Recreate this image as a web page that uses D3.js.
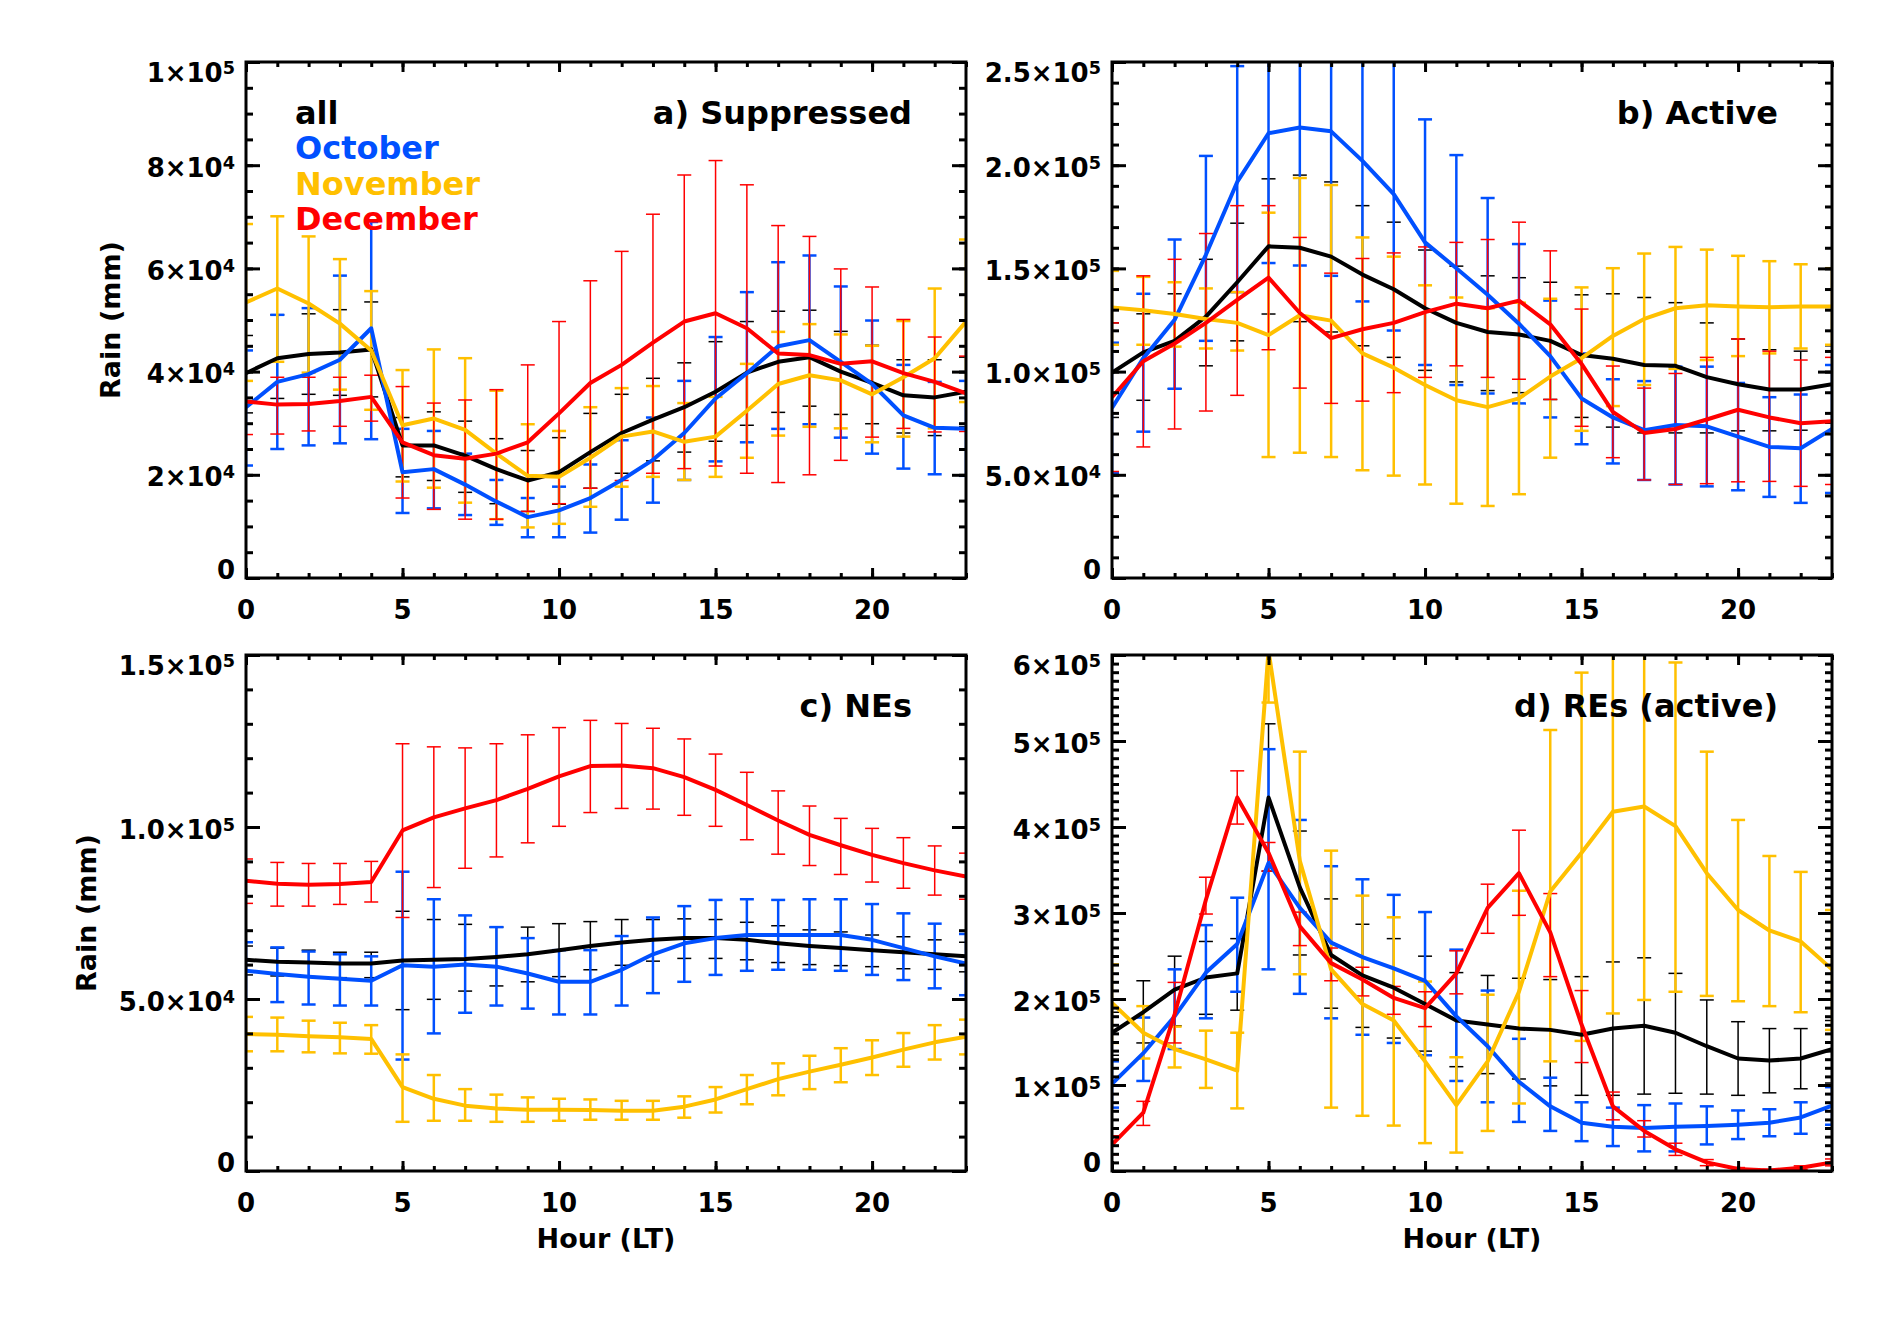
<!DOCTYPE html>
<html>
<head>
<meta charset="utf-8">
<script src="https://cdn.jsdelivr.net/npm/d3@7"></script>
<style>
  body { margin: 0; background: #fff; }
  text { font-family: "DejaVu Sans", sans-serif; font-weight: bold; fill: #000; }
</style>
</head>
<body>
<div id="chart"></div>
<script>
// Hours of the day (LT)
var hours = [0, 1, 2, 3, 4, 5, 6, 7, 8, 9, 10, 11, 12, 13, 14, 15, 16, 17, 18, 19, 20, 21, 22, 23];

// All rain values below are in units of 10^3 mm

// a) Suppressed
var allA   = [39.7, 42.6, 43.4, 43.7, 44.3, 25.7, 25.7, 23.7, 21.1, 18.9, 20.5, 24.4, 28.1, 30.7, 33.1, 36.1, 39.8, 41.9, 42.8, 40.0, 37.8, 35.4, 35.0, 36.1];
var allAHi = [47.0, 51.0, 51.2, 52.0, 53.5, 31.1, 32.2, 30.4, 27.0, 24.7, 27.2, 31.9, 35.6, 38.7, 41.7, 45.8, 49.7, 51.7, 51.9, 47.8, 45.1, 42.3, 42.3, 42.8];
var allALo = [32.0, 34.8, 35.6, 35.4, 35.1, 19.6, 18.9, 16.6, 14.4, 12.9, 14.3, 17.4, 20.3, 22.7, 24.4, 26.5, 29.6, 32.1, 33.3, 31.7, 29.9, 28.1, 27.6, 29.3];
var octA   = [33.1, 38.0, 39.5, 42.3, 48.4, 20.5, 21.1, 18.1, 14.8, 11.8, 13.1, 15.5, 19.0, 22.9, 28.1, 34.8, 39.7, 44.9, 46.1, 41.9, 37.6, 31.5, 29.1, 28.9];
var octAHi = [44.1, 51.0, 52.3, 58.6, 69.0, 28.9, 28.5, 24.1, 19.0, 15.5, 17.7, 22.0, 26.7, 31.1, 38.2, 46.7, 55.4, 61.2, 62.5, 56.5, 49.9, 41.3, 38.0, 38.2];
var octALo = [21.8, 25.0, 25.7, 26.1, 26.9, 12.6, 13.5, 12.2, 10.3, 7.9, 7.9, 8.8, 11.3, 14.6, 19.0, 22.6, 26.3, 28.9, 29.8, 27.2, 24.1, 21.2, 20.1, 19.8];
var novA   = [53.4, 56.1, 53.2, 49.3, 44.1, 29.6, 30.9, 28.7, 24.1, 19.8, 19.6, 23.3, 27.4, 28.4, 26.4, 27.4, 32.4, 37.6, 39.3, 38.3, 35.6, 38.9, 42.6, 49.7];
var novAHi = [68.6, 70.1, 66.2, 61.8, 55.6, 40.3, 44.3, 42.6, 36.3, 29.8, 28.5, 33.1, 36.8, 37.2, 33.9, 35.1, 41.5, 47.7, 49.2, 47.2, 45.0, 49.8, 56.1, 65.6];
var novALo = [38.2, 41.9, 39.8, 36.5, 32.6, 18.7, 17.5, 14.6, 11.4, 9.8, 10.5, 13.8, 17.7, 19.6, 19.0, 19.6, 23.3, 27.6, 29.3, 29.0, 26.3, 27.4, 29.0, 34.1];
var decA   = [34.2, 33.6, 33.7, 34.3, 35.1, 26.3, 23.8, 23.1, 24.1, 26.3, 31.9, 37.8, 41.3, 45.6, 49.7, 51.3, 48.4, 43.5, 43.2, 41.5, 42.0, 39.7, 38.0, 35.8];
var decAHi = [40.0, 38.9, 38.9, 38.9, 39.3, 37.1, 33.9, 34.5, 36.5, 41.3, 49.7, 57.6, 63.3, 70.5, 78.1, 80.9, 76.2, 68.3, 66.2, 59.9, 56.4, 50.1, 46.7, 43.0];
var decALo = [27.8, 27.9, 28.5, 29.4, 30.4, 15.5, 13.3, 11.4, 11.4, 12.9, 14.4, 17.4, 18.9, 20.3, 21.2, 21.7, 20.3, 18.5, 20.0, 22.8, 27.3, 29.0, 28.3, 28.4];

// b) Active
var allB   = [99.5, 109.3, 114.9, 126.6, 143.3, 160.7, 160.0, 155.7, 147.0, 139.9, 130.7, 123.6, 119.2, 118.0, 114.9, 108.0, 106.2, 103.2, 102.8, 97.3, 93.9, 91.3, 91.3, 93.9];
var allBHi = [123.6, 128.0, 137.7, 154.4, 171.9, 193.4, 195.2, 191.9, 180.4, 172.4, 158.9, 151.1, 146.4, 145.5, 143.3, 137.2, 137.7, 135.9, 133.4, 123.6, 115.8, 110.6, 109.9, 112.5];
var allBLo = [77.8, 86.1, 91.7, 102.8, 114.9, 127.9, 124.2, 119.2, 112.5, 106.9, 100.6, 95.0, 90.8, 89.8, 86.5, 77.8, 73.1, 70.3, 70.3, 70.3, 71.3, 71.3, 71.6, 75.0];
var octB   = [82.4, 106.5, 125.1, 156.6, 191.9, 215.5, 218.3, 216.4, 202.1, 186.0, 162.6, 150.1, 137.2, 123.2, 107.5, 87.0, 77.8, 71.6, 74.1, 73.5, 68.5, 63.5, 62.9, 72.2];
var octBHi = [114.0, 137.7, 164.0, 204.5, 248.0, 280.0, 285.0, 285.0, 270.0, 255.0, 222.2, 204.9, 184.1, 161.8, 134.4, 108.8, 96.3, 95.4, 102.4, 102.4, 94.5, 87.6, 88.9, 103.2];
var octBLo = [50.9, 70.9, 91.7, 114.9, 138.5, 152.6, 151.4, 146.4, 134.0, 119.9, 103.2, 93.5, 89.4, 84.6, 77.8, 64.8, 55.5, 47.5, 45.3, 44.4, 42.5, 39.3, 36.4, 41.2];
var novB   = [131.0, 129.7, 127.9, 125.5, 123.6, 117.7, 127.3, 124.7, 108.8, 101.9, 93.5, 86.1, 82.8, 87.0, 97.6, 106.5, 117.3, 125.5, 130.7, 132.1, 131.6, 131.2, 131.6, 131.6];
var novBHi = [148.8, 145.9, 143.3, 140.3, 138.5, 177.0, 193.8, 190.4, 165.0, 155.7, 141.8, 135.9, 130.7, 133.4, 135.3, 140.8, 150.1, 157.2, 160.4, 159.1, 156.1, 153.5, 152.0, 150.1];
var novBLo = [113.0, 113.0, 112.1, 111.2, 110.2, 58.6, 60.7, 58.6, 52.2, 49.6, 45.3, 36.0, 34.9, 40.6, 58.3, 71.3, 83.3, 93.5, 101.3, 105.6, 107.5, 108.8, 111.2, 113.0];
var decB   = [87.6, 105.0, 113.6, 123.6, 134.7, 145.5, 128.4, 116.2, 120.5, 123.6, 128.8, 132.9, 130.7, 134.4, 122.9, 103.7, 80.5, 70.3, 72.2, 76.8, 81.5, 77.8, 75.0, 75.9];
var decBHi = [123.6, 146.4, 154.4, 166.9, 180.4, 180.4, 165.0, 147.7, 154.8, 157.5, 160.4, 162.6, 164.0, 172.4, 158.5, 130.3, 102.7, 92.0, 99.1, 106.9, 115.8, 109.9, 105.6, 106.9];
var decBLo = [51.6, 63.5, 72.2, 80.9, 88.5, 110.6, 92.0, 84.6, 85.7, 89.8, 97.2, 102.8, 97.2, 96.3, 86.5, 73.5, 58.3, 47.5, 45.3, 45.7, 46.6, 46.8, 44.4, 45.3];

// c) NEs
var allC   = [61.4, 60.8, 60.6, 60.3, 60.3, 61.2, 61.4, 61.6, 62.2, 63.0, 64.2, 65.4, 66.4, 67.2, 67.7, 67.7, 67.2, 66.2, 65.4, 64.8, 64.2, 63.6, 63.0, 62.4];
var allCHi = [65.4, 64.8, 64.2, 63.6, 63.6, 75.5, 73.1, 71.7, 70.9, 70.9, 71.9, 72.5, 73.1, 73.1, 73.3, 73.1, 72.3, 71.3, 70.1, 69.5, 68.6, 68.1, 67.2, 66.5];
var allCLo = [57.0, 56.7, 56.5, 56.2, 56.2, 46.9, 49.9, 52.3, 53.8, 55.0, 56.5, 58.5, 59.8, 61.0, 61.8, 61.8, 61.4, 60.6, 60.0, 59.7, 59.4, 58.8, 58.6, 57.9];
var octC   = [58.2, 57.3, 56.5, 55.9, 55.3, 59.8, 59.4, 60.0, 59.4, 57.4, 55.0, 55.0, 58.5, 63.0, 66.2, 67.7, 68.6, 68.6, 68.6, 68.6, 67.2, 64.8, 62.4, 60.3];
var octCHi = [66.5, 65.0, 63.8, 63.0, 62.4, 87.0, 79.0, 74.3, 70.9, 67.7, 64.2, 64.2, 68.3, 73.7, 77.0, 78.8, 79.0, 78.8, 79.0, 79.0, 77.6, 74.9, 71.9, 68.9];
var octCLo = [49.9, 49.1, 48.4, 48.1, 48.1, 32.4, 40.0, 46.0, 48.1, 47.2, 45.5, 45.5, 48.1, 51.7, 55.0, 57.0, 58.2, 58.5, 58.5, 58.2, 57.0, 55.5, 53.1, 51.1];
var novC   = [39.8, 39.6, 39.2, 38.9, 38.4, 24.4, 21.0, 19.0, 18.2, 17.8, 17.8, 17.7, 17.5, 17.5, 18.7, 20.8, 23.8, 26.7, 28.9, 30.9, 33.0, 35.3, 37.4, 39.0];
var novCHi = [44.8, 44.6, 43.7, 43.1, 42.4, 33.9, 27.9, 23.8, 22.2, 21.4, 21.0, 20.8, 20.4, 20.4, 21.7, 24.4, 27.9, 31.3, 33.5, 35.7, 38.0, 40.1, 42.4, 44.0];
var novCLo = [34.8, 34.8, 34.5, 34.2, 34.1, 14.3, 14.6, 14.6, 14.3, 14.3, 14.6, 14.9, 14.9, 14.9, 15.5, 17.0, 19.4, 22.0, 23.8, 25.8, 27.9, 30.3, 32.4, 33.9];
var decC   = [84.4, 83.5, 83.2, 83.4, 84.0, 99.0, 102.8, 105.4, 107.8, 111.1, 114.7, 117.7, 117.9, 117.1, 114.5, 110.8, 106.4, 101.9, 97.7, 94.7, 91.9, 89.5, 87.4, 85.6];
var decCHi = [90.7, 89.7, 89.4, 89.4, 90.0, 124.2, 123.3, 123.0, 124.2, 126.8, 128.9, 131.0, 130.1, 128.7, 125.6, 121.2, 115.9, 110.5, 106.1, 102.5, 99.6, 96.9, 94.5, 92.4];
var decCLo = [77.8, 77.0, 77.0, 77.5, 78.2, 73.7, 82.4, 88.0, 91.3, 95.4, 100.2, 104.2, 105.4, 105.2, 103.4, 100.2, 96.3, 92.1, 88.8, 86.2, 84.0, 82.2, 80.2, 79.0];

// d) REs (active)
var allD   = [160.8, 184.6, 210.8, 225.0, 229.8, 434.3, 329.7, 251.2, 227.4, 213.1, 194.1, 175.1, 170.3, 165.6, 164.1, 158.4, 165.6, 168.9, 160.8, 145.1, 130.8, 128.4, 130.8, 141.8];
var allDHi = [184.6, 221.2, 249.8, 266.9, 270.2, 520.0, 395.3, 316.4, 286.9, 270.2, 249.8, 230.7, 227.4, 224.1, 222.6, 226.0, 243.1, 247.9, 229.8, 198.9, 173.6, 165.6, 165.6, 175.0];
var allDLo = [134.6, 148.9, 168.9, 182.2, 187.0, 348.7, 251.2, 189.3, 167.0, 154.6, 139.4, 121.3, 113.2, 107.0, 99.0, 88.0, 88.0, 89.4, 90.4, 89.4, 88.0, 90.9, 95.6, 102.3];
var octD   = [101.3, 137.0, 179.8, 230.7, 264.0, 358.2, 305.9, 265.5, 248.8, 235.5, 221.2, 179.8, 145.1, 103.7, 75.2, 56.1, 51.4, 50.0, 51.4, 52.3, 53.8, 56.1, 62.3, 76.1];
var octDHi = [127.5, 178.4, 234.5, 285.9, 317.8, 490.5, 408.2, 354.4, 339.2, 321.1, 301.1, 257.4, 209.8, 153.7, 108.5, 79.9, 73.7, 76.6, 78.5, 75.2, 70.4, 71.8, 79.9, 97.5];
var octDLo = [73.7, 104.7, 141.8, 177.5, 208.4, 234.5, 206.0, 177.5, 158.4, 148.9, 134.6, 104.7, 79.9, 57.1, 46.6, 34.7, 29.0, 22.8, 22.8, 30.9, 37.1, 40.4, 43.3, 53.8];
var novD   = [195.5, 160.8, 141.8, 129.9, 116.6, 605.0, 360.6, 234.5, 194.1, 175.1, 127.5, 76.6, 127.5, 208.4, 324.9, 370.1, 417.7, 423.9, 401.0, 346.3, 303.5, 279.7, 266.9, 234.5];
var novDHi = [240.2, 191.7, 167.9, 163.2, 160.8, 665.0, 487.6, 372.5, 320.2, 295.0, 220.3, 132.3, 205.0, 325.9, 512.8, 579.5, 650.0, 645.0, 591.3, 487.6, 408.2, 366.3, 347.8, 303.5];
var novDLo = [148.9, 130.8, 120.4, 96.6, 72.8, 544.7, 228.8, 73.7, 64.2, 52.8, 32.4, 21.4, 46.6, 78.5, 127.5, 151.3, 183.2, 198.9, 208.4, 203.6, 197.4, 191.7, 184.6, 164.1];
var decD   = [30.6, 68.0, 182.2, 315.4, 434.3, 370.1, 284.5, 241.7, 222.6, 201.2, 189.3, 229.8, 305.9, 346.3, 277.4, 170.3, 75.2, 46.6, 25.2, 10.0, 2.4, 0.5, 3.8, 10.0];
var decDHi = [41.0, 81.0, 219.3, 341.6, 465.3, 382.0, 301.0, 259.3, 236.9, 214.6, 208.4, 256.0, 333.5, 396.3, 322.6, 209.8, 91.8, 58.5, 32.3, 13.3, 4.0, 2.0, 6.0, 14.0];
var decDLo = [19.0, 53.0, 148.9, 298.8, 403.4, 348.7, 262.1, 221.2, 203.6, 182.2, 167.9, 206.0, 276.4, 297.3, 226.0, 126.1, 59.5, 39.5, 18.1, 6.2, 1.0, 0.0, 2.0, 6.0];

// Axis ticks and labels
var xMajor = [0, 5, 10, 15, 20];
var xLabels = ["0", "5", "10", "15", "20"];
var yTicksA = [0, 20, 40, 60, 80, 100];
var yLabelsA = ["0", "2×10^4", "4×10^4", "6×10^4", "8×10^4", "1×10^5"];
var yTicksB = [0, 50, 100, 150, 200, 250];
var yLabelsB = ["0", "5.0×10^4", "1.0×10^5", "1.5×10^5", "2.0×10^5", "2.5×10^5"];
var yTicksC = [0, 50, 100, 150];
var yLabelsC = ["0", "5.0×10^4", "1.0×10^5", "1.5×10^5"];
var yTicksD = [0, 100, 200, 300, 400, 500, 600];
var yLabelsD = ["0", "1×10^5", "2×10^5", "3×10^5", "4×10^5", "5×10^5", "6×10^5"];

var monthNames = ["all", "October", "November", "December"];
var monthColors = ["#000000", "#0050ff", "#ffc000", "#ff0000"];
var errWidths = [1.5, 2.5, 2.5, 1.5];

var W = 720, H = 516;

var svg = d3.select("#chart").append("svg")
  .attr("width", 1883)
  .attr("height", 1322);

var panels = [
  {id: "a", title: "a) Suppressed", left: 246, top: 62, yMax: 100, yMinor: 5,
   ticks: yTicksA, labels: yLabelsA, ytitleX: 120, xtitle: false,
   series: [[allA, allALo, allAHi], [octA, octALo, octAHi], [novA, novALo, novAHi], [decA, decALo, decAHi]]},
  {id: "b", title: "b) Active", left: 1112, top: 62, yMax: 250, yMinor: 10,
   ticks: yTicksB, labels: yLabelsB, ytitleX: null, xtitle: false,
   series: [[allB, allBLo, allBHi], [octB, octBLo, octBHi], [novB, novBLo, novBHi], [decB, decBLo, decBHi]]},
  {id: "c", title: "c) NEs", left: 246, top: 655, yMax: 150, yMinor: 10,
   ticks: yTicksC, labels: yLabelsC, ytitleX: 96, xtitle: true,
   series: [[allC, allCLo, allCHi], [octC, octCLo, octCHi], [novC, novCLo, novCHi], [decC, decCLo, decCHi]]},
  {id: "d", title: "d) REs (active)", left: 1112, top: 655, yMax: 600, yMinor: 10,
   ticks: yTicksD, labels: yLabelsD, ytitleX: null, xtitle: true,
   series: [[allD, allDLo, allDHi], [octD, octDLo, octDHi], [novD, novDLo, novDHi], [decD, decDLo, decDHi]]}
];

panels.forEach(drawPanel);

// Legend in panel a
monthNames.forEach(function(name, i) {
  svg.append("text")
    .attr("x", 295)
    .attr("y", 124 + i * 35.3)
    .attr("font-size", 32)
    .style("fill", monthColors[i])
    .text(name);
});

function drawPanel(p) {
  var g = svg.append("g");
  var x = d3.scaleLinear().domain([0, 23]).range([p.left, p.left + W]);
  var y = d3.scaleLinear().domain([0, p.yMax]).range([p.top + H, p.top]);

  svg.append("clipPath").attr("id", "clip-" + p.id)
    .append("rect")
      .attr("x", p.left).attr("y", p.top)
      .attr("width", W).attr("height", H);

  var plot = g.append("g").attr("clip-path", "url(#clip-" + p.id + ")");

  // error bars first
  p.series.forEach(function(s, k) {
    var eb = plot.append("g")
      .attr("stroke", monthColors[k])
      .attr("stroke-width", errWidths[k]);
    hours.forEach(function(h, i) {
      var cx = x(h), y0 = y(s[1][i]), y1 = y(s[2][i]);
      eb.append("line").attr("x1", cx).attr("x2", cx).attr("y1", y0).attr("y2", y1);
      eb.append("line").attr("x1", cx - 7).attr("x2", cx + 7).attr("y1", y0).attr("y2", y0);
      eb.append("line").attr("x1", cx - 7).attr("x2", cx + 7).attr("y1", y1).attr("y2", y1);
    });
  });

  // then the lines
  p.series.forEach(function(s, k) {
    var line = d3.line()
      .x(function(h) { return x(h); })
      .y(function(h, i) { return y(s[0][i]); });
    plot.append("path")
      .datum(hours)
      .attr("fill", "none")
      .attr("stroke", monthColors[k])
      .attr("stroke-width", 4)
      .attr("stroke-linejoin", "round")
      .attr("d", line);
  });

  // ticks, pointing inward, on all four sides
  var yMinorTicks = d3.range(0, p.yMax + 0.001, p.yMinor);
  var xMinorTicks = hours;
  function ticks(sel) {
    sel.select(".domain").remove();
    sel.selectAll("line").attr("stroke", "#000").attr("stroke-width", 3);
  }
  g.append("g").attr("transform", "translate(0," + (p.top + H) + ")")
    .call(d3.axisBottom(x).tickValues(xMajor).tickSize(-10).tickFormat("")).call(ticks);
  g.append("g").attr("transform", "translate(0," + (p.top + H) + ")")
    .call(d3.axisBottom(x).tickValues(xMinorTicks).tickSize(-5).tickFormat("")).call(ticks);
  g.append("g").attr("transform", "translate(0," + p.top + ")")
    .call(d3.axisTop(x).tickValues(xMajor).tickSize(-10).tickFormat("")).call(ticks);
  g.append("g").attr("transform", "translate(0," + p.top + ")")
    .call(d3.axisTop(x).tickValues(xMinorTicks).tickSize(-5).tickFormat("")).call(ticks);
  g.append("g").attr("transform", "translate(" + p.left + ",0)")
    .call(d3.axisLeft(y).tickValues(p.ticks).tickSize(-14).tickFormat("")).call(ticks);
  g.append("g").attr("transform", "translate(" + p.left + ",0)")
    .call(d3.axisLeft(y).tickValues(yMinorTicks).tickSize(-7).tickFormat("")).call(ticks);
  g.append("g").attr("transform", "translate(" + (p.left + W) + ",0)")
    .call(d3.axisRight(y).tickValues(p.ticks).tickSize(-14).tickFormat("")).call(ticks);
  g.append("g").attr("transform", "translate(" + (p.left + W) + ",0)")
    .call(d3.axisRight(y).tickValues(yMinorTicks).tickSize(-7).tickFormat("")).call(ticks);

  // frame
  g.append("rect")
    .attr("x", p.left).attr("y", p.top)
    .attr("width", W).attr("height", H)
    .attr("fill", "none").attr("stroke", "#000").attr("stroke-width", 3);

  // x tick labels
  xMajor.forEach(function(v, i) {
    g.append("text")
      .attr("x", x(v)).attr("y", p.top + H + 41)
      .attr("text-anchor", "middle")
      .attr("font-size", 26)
      .text(xLabels[i]);
  });

  // y tick labels with superscript exponents
  p.ticks.forEach(function(v, i) {
    var off = 2;
    if (i === 0) off = -9;
    if (i === p.ticks.length - 1) off = 10;
    var parts = p.labels[i].split("^");
    var t = g.append("text")
      .attr("x", p.left - 11)
      .attr("y", y(v) + 9.5 + off)
      .attr("text-anchor", "end")
      .attr("font-size", 26);
    t.append("tspan").text(parts[0]);
    if (parts.length > 1) {
      t.append("tspan").attr("dy", "-0.45em").attr("font-size", "0.68em").text(parts[1]);
    }
  });

  // panel title
  g.append("text")
    .attr("x", p.left + W - 54).attr("y", p.top + 62)
    .attr("text-anchor", "end")
    .attr("font-size", 32)
    .text(p.title);

  if (p.ytitleX !== null) {
    g.append("text")
      .attr("transform", "translate(" + p.ytitleX + "," + (p.top + H / 2) + ") rotate(-90)")
      .attr("text-anchor", "middle")
      .attr("font-size", 27)
      .text("Rain (mm)");
  }
  if (p.xtitle) {
    g.append("text")
      .attr("x", p.left + W / 2).attr("y", 1248)
      .attr("text-anchor", "middle")
      .attr("font-size", 27)
      .text("Hour (LT)");
  }
}
</script>
</body>
</html>
